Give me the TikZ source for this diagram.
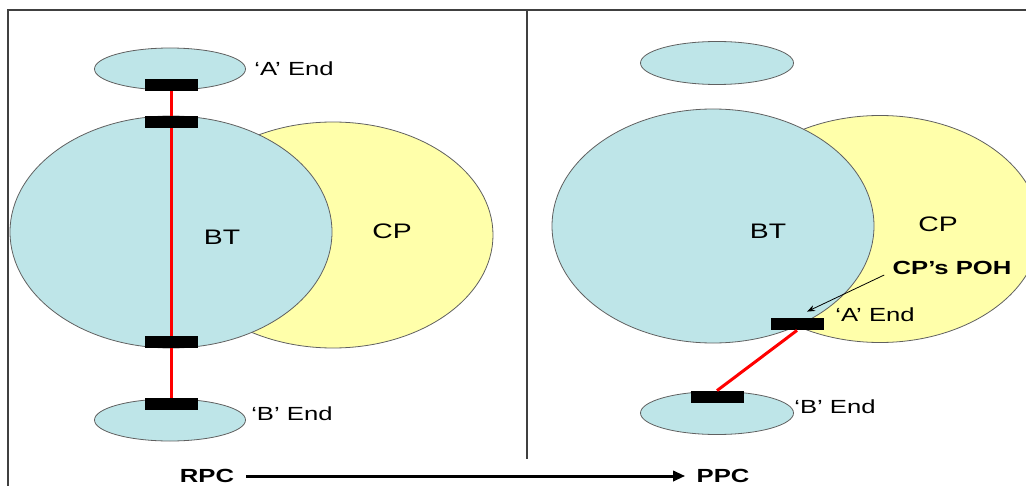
\documentclass[tikz,border=0pt]{standalone}
\usepackage{fontspec}
\setmainfont[FakeStretch=1.35]{Liberation Sans}
\usepackage{tikz}
\usetikzlibrary{positioning, arrows.meta, calc, shapes.geometric}
\definecolor{btFill}{HTML}{BEE5E8}
\definecolor{cpFill}{HTML}{FFFFAA}
\definecolor{rimGray}{HTML}{606060}
\definecolor{frameGray}{HTML}{404040}
\definecolor{linkRed}{HTML}{FF0000}

\begin{document}
\begin{tikzpicture}[x=0.5pt, y=-0.5pt, zone/.style={ellipse, draw=rimGray, line width=0.4pt, inner sep=0pt},bar/.style={rectangle, fill=black, inner sep=0pt, minimum width=26.5pt, minimum height=6pt},link/.style={draw=linkRed, line width=1.5pt},tag/.style={inner sep=0pt, font=\fontsize{9.5}{11}\selectfont},zonelabel/.style={inner sep=0pt, font=\fontsize{10.5}{12}\selectfont},pointer/.style={-{Stealth[length=4pt, width=3pt]}, line width=0.4pt},shiftarrow/.style={-{Triangle[length=6pt, width=5pt]}, line width=1.5pt}]
\useasboundingbox (0,0) rectangle (1026,486);
% frame and divider
\draw[frameGray, line width=0.6pt] (8,486) -- (8,10) -- (1026,10);
\draw[frameGray, line width=0.6pt] (527,10) -- (527,459);
% left panel: RPC
\node[zone, fill=cpFill, minimum width=160pt, minimum height=113pt] (cpL) at (333,235) {};
\node[zone, fill=btFill, minimum width=161pt, minimum height=116pt] (btL) at (171,232) {};
\node[zone, fill=btFill, minimum width=75.5pt, minimum height=21pt] (aL) at (170,69) {};
\node[zone, fill=btFill, minimum width=75.5pt, minimum height=21pt] (bL) at (170,420) {};
\node[zonelabel] at (222,237) {BT};
\node[zonelabel] at (392,231) {CP};
\node[bar] (l1) at (171,85) {};
\node[bar] (l2) at (171,122) {};
\node[bar] (l3) at (171,342) {};
\node[bar] (l4) at (171,404) {};
\foreach \u/\v in {l1/l2,l2/l3,l3/l4} \draw[link] (\u.south) -- (\v.north);
\node[tag, right=4pt of aL] {`A' End};
\node[tag, right=2.5pt of bL, yshift=3pt] {`B' End};
% right panel: PPC
\node[zone, fill=cpFill, minimum width=160pt, minimum height=113.5pt] (cpR) at (880,229) {};
\node[zone, fill=btFill, minimum width=161pt, minimum height=117pt] (btR) at (713,226) {};
\node[zone, fill=btFill, minimum width=76.5pt, minimum height=21.5pt] (aR) at (717,63) {};
\node[zone, fill=btFill, minimum width=76.5pt, minimum height=21.5pt] (bR) at (717,413) {};
\node[zonelabel] at (768,231) {BT};
\node[zonelabel] at (938,224) {CP};
\node[bar] (ra) at (797,324) {};
\node[bar] (rb) at (717,397) {};
\draw[link] (ra.south) -- (rb.north);
\node[tag, right=5.5pt of ra, yshift=4.5pt] {`A' End};
\node[tag, right=0pt of bR, yshift=3pt] {`B' End};
\node[tag, font=\fontsize{9.5}{11}\selectfont\bfseries] (poh) at (952,268) {CP's POH};
\draw[pointer] ($(poh.west)+(-8,7)$) -- ($(ra.north)+(10,-6)$);
% bottom: RPC to PPC
\node[tag, font=\fontsize{9.5}{11}\selectfont\bfseries] (rpc) at (207,476) {RPC};
\node[tag, font=\fontsize{9.5}{11}\selectfont\bfseries] (ppc) at (723,476) {PPC};
\draw[shiftarrow, shorten <=6pt, shorten >=5.5pt] (rpc) -- (ppc);
\end{tikzpicture}
\end{document}
